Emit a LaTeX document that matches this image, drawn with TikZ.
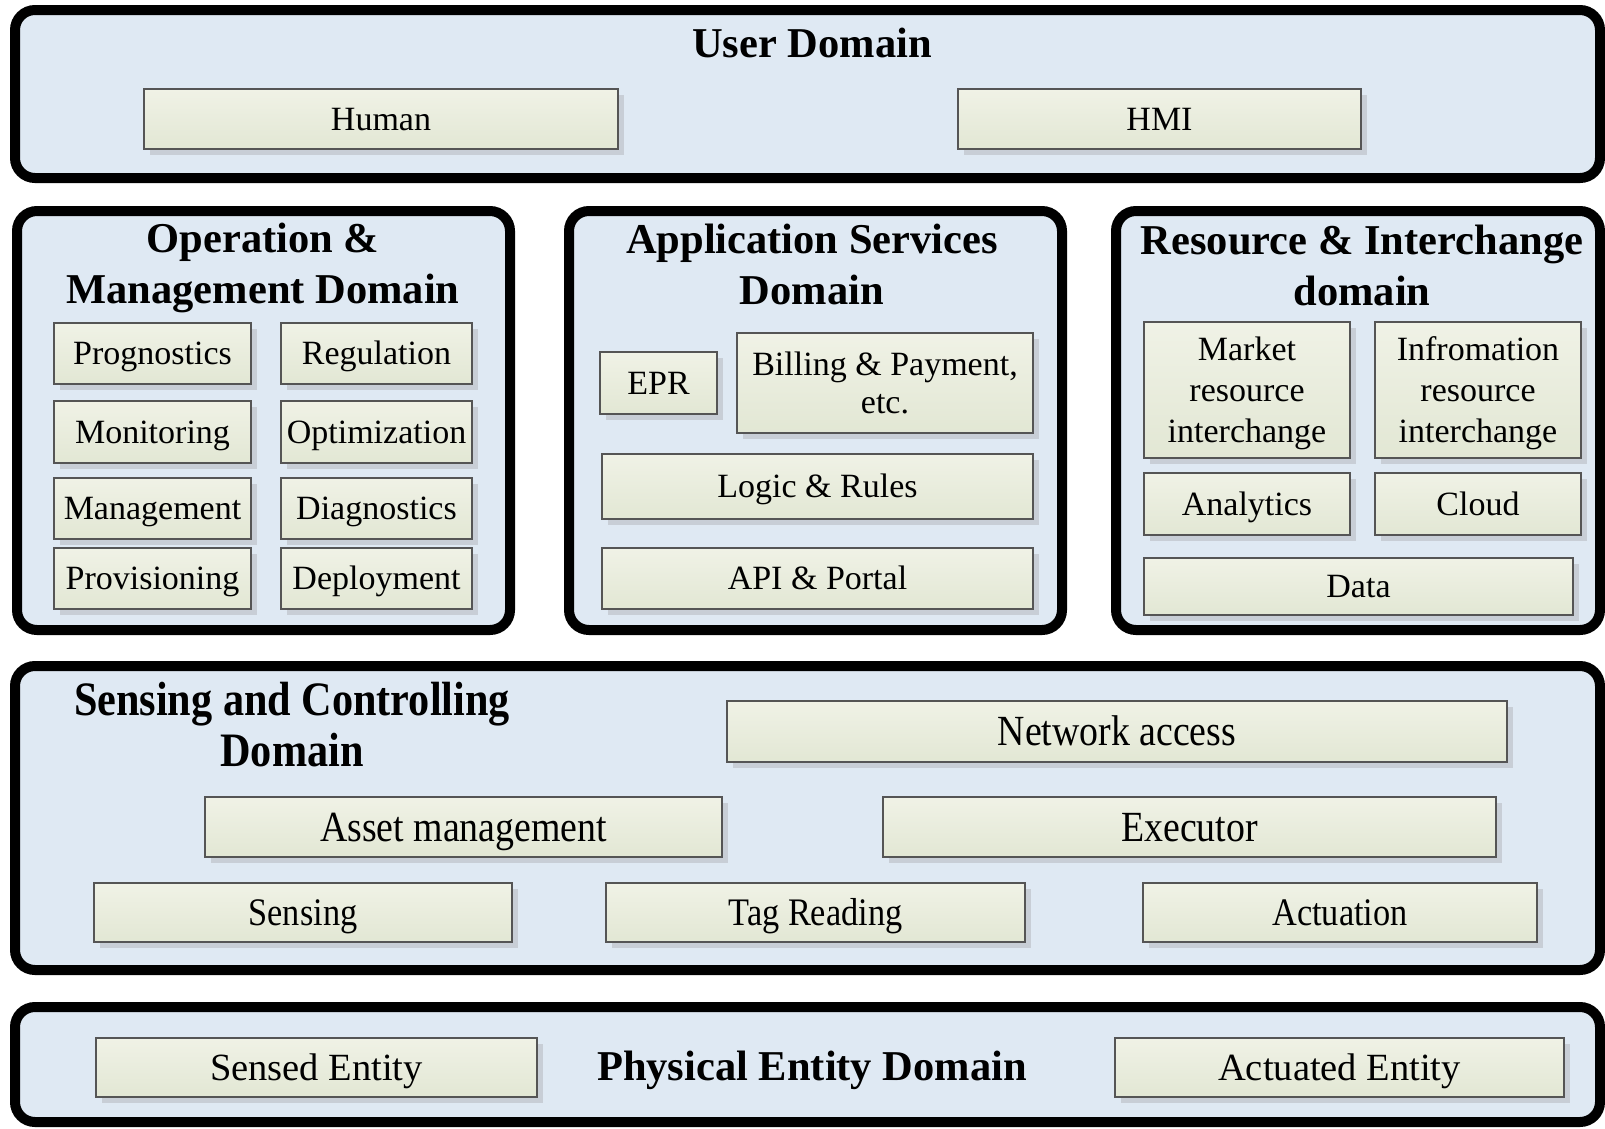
\documentclass[tikz,border=0pt]{standalone}
\usepackage{fontspec}
\setmainfont{Liberation Serif}
\newfontfamily\narrowserif[FakeStretch=0.88]{Liberation Serif}
\usetikzlibrary{shadows}

\definecolor{domainfill}{RGB}{223,233,243}
\definecolor{itemtop}{RGB}{240,242,230}
\definecolor{itembottom}{RGB}{226,231,212}
\definecolor{itemline}{RGB}{85,85,85}
\definecolor{itemshadow}{RGB}{200,206,214}

\tikzset{
  domainbox/.style={draw=black, line width=10pt, rounded corners=20pt,
    fill=domainfill, inner sep=0pt},
  itembox/.style={draw=itemline, line width=2pt, top color=itemtop,
    bottom color=itembottom, inner sep=0pt, align=center,
    font=\fontsize{34}{41}\selectfont,
    drop shadow={shadow xshift=6pt, shadow yshift=-6pt,
      fill=itemshadow, opacity=1}},
  oneline/.style={text height=27pt, text depth=5pt},
  twoline/.style={font=\fontsize{34}{38}\selectfont},
  narrowitem/.style={font=\narrowserif\fontsize{39}{46}\selectfont,
    text height=31pt, text depth=5pt},
  wideitem/.style={font=\narrowserif\fontsize{43}{50}\selectfont,
    text height=33pt, text depth=5pt},
  entity/.style={font=\fontsize{38.5}{46}\selectfont,
    text height=30.5pt, text depth=5pt},
  title/.style={font=\bfseries\fontsize{42.5}{51}\selectfont, align=center,
    inner sep=0pt},
  narrowtitle/.style={font=\narrowserif\bfseries\fontsize{48}{51}\selectfont,
    align=center, inner sep=0pt}
}

% a box given by its corners: style, name, x1, y1, x2, y2, text
\newcommand\place[7]{%
  \node[#1, minimum width={(#5-#3)*1pt}, minimum height={(#6-#4)*1pt}]
    (#2) at ({(#3+#5)/2},{(#4+#6)/2}) {#7};}
% strut that lowers a three-line label a little
\newcommand\topstrut{\rule{0pt}{30pt}}

\begin{document}
\begin{tikzpicture}[x=1pt, y=-1pt]
  \fill[white] (0,0) rectangle (1605,1128);
  \useasboundingbox (0,0) rectangle (1605,1128);

  % domains
  \place{domainbox}{user}{15}{10}{1600}{178}{}
  \place{domainbox}{opm}{17}{211}{510}{630}{}
  \place{domainbox}{app}{569}{211}{1062}{630}{}
  \place{domainbox}{res}{1116}{211}{1600}{630}{}
  \place{domainbox}{sense}{15}{666}{1600}{970}{}
  \place{domainbox}{phys}{15}{1007}{1600}{1122}{}

  % user domain
  \node[title] (usertitle) at (812,43) {User Domain};
  \place{itembox,oneline}{human}{144}{89}{618}{149}{Human}
  \place{itembox,oneline}{hmi}{958}{89}{1361}{149}{HMI}

  % operation & management domain
  \node[title] (opmtitle) at (263,268) {Operation \&\\Management Domain};
  \place{itembox,oneline}{prog}{54}{323}{251}{384}{Prognostics}
  \place{itembox,oneline}{regu}{281}{323}{472}{384}{Regulation}
  \place{itembox,oneline}{moni}{54}{401}{251}{463}{Monitoring}
  \place{itembox,oneline}{opti}{281}{401}{472}{463}{Optimization}
  \place{itembox,oneline}{mana}{54}{478}{251}{539}{Management}
  \place{itembox,oneline}{diag}{281}{478}{472}{539}{Diagnostics}
  \place{itembox,oneline}{prov}{54}{548}{251}{609}{Provisioning}
  \place{itembox,oneline}{depl}{281}{548}{472}{609}{Deployment}

  % application services domain
  \node[title] (apptitle) at (812,264) {Application Services\\Domain};
  \place{itembox,oneline}{epr}{600}{352}{717}{414}{EPR}
  \place{itembox,twoline}{bill}{737}{333}{1033}{433}{Billing \& Payment,\\etc.}
  \place{itembox,oneline}{logic}{602}{454}{1033}{519}{Logic \& Rules}
  \place{itembox,oneline}{api}{602}{548}{1033}{609}{API \& Portal}

  % resource & interchange domain
  \node[title] (restitle) at (1362,265) {Resource \& Interchange\\domain};
  \place{itembox}{market}{1144}{322}{1350}{458}{\topstrut Market\\resource\\interchange}
  \place{itembox}{info}{1375}{322}{1581}{458}{\topstrut Infromation\\resource\\interchange}
  \place{itembox,oneline}{analytics}{1144}{473}{1350}{535}{Analytics}
  \place{itembox,oneline}{cloud}{1375}{473}{1581}{535}{Cloud}
  \place{itembox,oneline}{data}{1144}{558}{1573}{615}{Data}

  % sensing and controlling domain
  \node[narrowtitle] (sensetitle) at (292,725) {Sensing and Controlling\\Domain};
  \place{itembox,wideitem}{net}{727}{701}{1507}{762}{Network access}
  \place{itembox,wideitem}{asset}{205}{797}{722}{857}{Asset management}
  \place{itembox,wideitem}{exec}{883}{797}{1496}{857}{Executor}
  \place{itembox,narrowitem}{sensing}{94}{883}{512}{942}{Sensing}
  \place{itembox,narrowitem}{tag}{606}{883}{1025}{942}{Tag Reading}
  \place{itembox,narrowitem}{actuation}{1143}{883}{1537}{942}{Actuation}

  % physical entity domain
  \place{itembox,entity}{sensed}{96}{1038}{537}{1097}{Sensed Entity}
  \node[title] (phystitle) at (812,1070) {Physical Entity Domain};
  \place{itembox,entity}{actuated}{1115}{1038}{1564}{1097}{Actuated Entity}
\end{tikzpicture}
\end{document}
